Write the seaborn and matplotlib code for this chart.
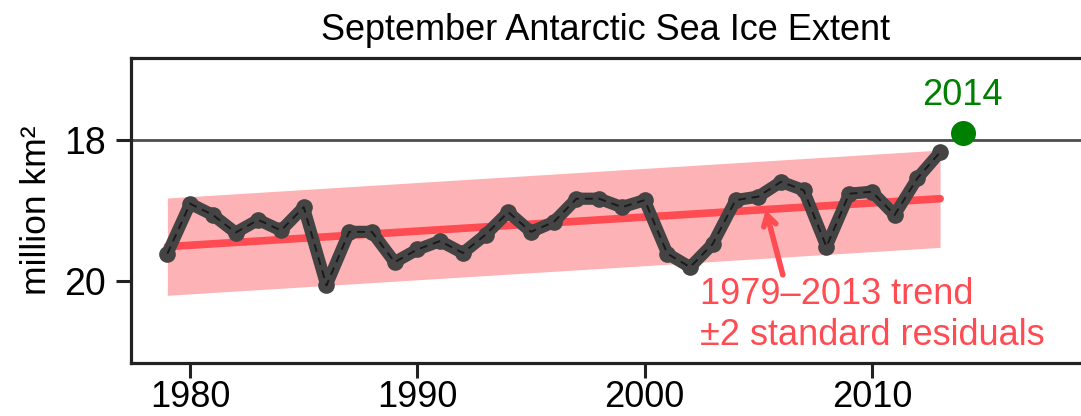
import matplotlib
matplotlib.use("Agg")
import matplotlib.pyplot as plt
import seaborn as sns
import numpy as np
import pandas as pd

years = list(range(1979, 2014))
extent = [19.61, 18.90, 19.06, 19.31, 19.13, 19.28, 18.95, 20.06, 19.30, 19.30,
          19.73, 19.55, 19.43, 19.60, 19.34, 19.02, 19.30, 19.16, 18.83, 18.83,
          18.95, 18.85, 19.61, 19.80, 19.47, 18.85, 18.80, 18.59, 18.71, 19.51,
          18.76, 18.73, 19.06, 18.54, 18.17]
trend_years = [1979, 2013]
trend_values = [19.51, 18.83]
band_halfwidth = 0.69
highlight_year = 2014
highlight_value = 17.90
ref_level = 18
yticks = [18, 20]
xticks = [1980, 1990, 2000, 2010]

df = pd.DataFrame({"year": years, "extent": extent})

sns.set_style("white")
plt.rcParams["font.family"] = ["Liberation Sans", "DejaVu Sans"]
plt.rcParams["text.color"] = "black"
plt.rcParams["axes.labelcolor"] = "black"
plt.rcParams["xtick.color"] = "black"
plt.rcParams["ytick.color"] = "black"

fig = plt.figure(figsize=(10.81, 4.16), dpi=100)
ax = fig.add_axes([131 / 1081, (416 - 363) / 416, 1 - 131 / 1081, (363 - 57.7) / 416])

tv = np.array(trend_values)
ax.fill_between(trend_years, tv - band_halfwidth, tv + band_halfwidth,
                color="#fdb3b5", lw=0, zorder=1)
ax.axhline(ref_level, color="#4d4d4d", lw=2.0, zorder=2)
ax.plot(trend_years, trend_values, color="#ff4b52", lw=5.5,
        solid_capstyle="round", zorder=3)

sns.lineplot(data=df, x="year", y="extent", ax=ax, color="#444444", lw=8.8,
             marker="o", markersize=12, markeredgewidth=0,
             solid_capstyle="round", solid_joinstyle="round", zorder=4)
ax.plot(years, extent, color="#1a1a1a", lw=1.4, ls=(0, (4, 3)), zorder=5)

ax.plot([highlight_year], [highlight_value], "o", color="#008000",
        markersize=18, markeredgewidth=0, zorder=6)
ax.text(highlight_year, highlight_value - 0.28, str(highlight_year),
        color="#008000", fontsize=26, ha="center", va="bottom")

ax.annotate("", xy=(2005.33, 18.99), xytext=(2006.08, 19.91),
            arrowprops=dict(arrowstyle="->,head_length=0.75,head_width=0.45",
                            color="#ff4b52", lw=4, shrinkA=0, shrinkB=0),
            zorder=6)
ax.text(2002.43, 20.48, "1979\u20132013 trend\n\u00b12 standard residuals",
        color="#ff4b52", fontsize=26, ha="left", va="center", linespacing=1.2)

ax.set_xlim(1977.4, 2019.2)
ax.set_ylim(21.16, 16.83)
ax.set_xticks(xticks)
ax.set_yticks(yticks)
ax.set_xlabel("")
ax.set_ylabel("million km\u00b2", fontsize=25.5, labelpad=8)
ax.set_title("September Antarctic Sea Ice Extent", fontsize=26, pad=13)

for s in ["left", "top", "bottom"]:
    ax.spines[s].set_color("#222222")
    ax.spines[s].set_linewidth(2.3)
ax.spines["right"].set_visible(False)
ax.tick_params(axis="both", which="major", length=11, width=2.2,
               color="#222222", labelsize=26, pad=1, direction="out",
               bottom=True, left=True)
ax.tick_params(axis="y", labelsize=27, pad=7)

fig.savefig("out.png", dpi=100)
